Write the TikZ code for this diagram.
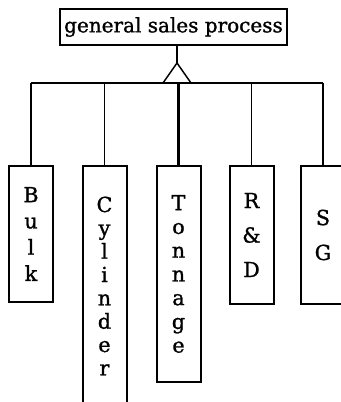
\documentclass[tikz,border=0pt]{standalone}
\usepackage{fontspec}
\setmainfont[FakeBold=1.2]{DejaVu Serif}
\begin{document}
\begin{tikzpicture}[x=0.75pt,y=-0.75pt,
  colbox/.style={draw, line width=1.5pt, anchor=north, minimum width=33pt,
    inner sep=0pt, align=center, font=\fontsize{15.5}{#1}\selectfont\addfontfeature{FakeBold=1.2}},
  link/.style={line width=1.1pt},
  thick link/.style={line width=1.8pt}]
\clip (0,0) rectangle (341,402);
\node[draw, line width=1.5pt, minimum width=170pt, minimum height=27pt, inner sep=0pt,
  font=\fontsize{15}{18}\selectfont\addfontfeature{FakeBold=1.2}] (top) at (173.5,27) {general sales process};
\coordinate (apex) at (177,63);
\coordinate (bl) at (163,83);
\coordinate (br) at (191,83);
\coordinate (barL) at (31,83);
\coordinate (barR) at (323,83);
\node[colbox=19.7pt, minimum height=102pt] (bulk) at (31,165) {B\\u\\l\\k};
\node[colbox=17.5pt, minimum height=180pt] (cyl) at (104.5,165) {C\\y\\l\\i\\n\\d\\e\\r};
\node[colbox=17.8pt, minimum height=162pt] (ton) at (178.5,165) {T\\o\\n\\n\\a\\g\\e};
\node[colbox=25.9pt, minimum height=103.5pt] (rd) at (251.5,165) {R\\\&\\D};
\node[colbox=26.2pt, minimum height=103.5pt] (sg) at (323,165) {S\\G};
\draw[link] (top.south -| apex) -- (apex);
\draw[link] (apex) -- (bl) (apex) -- (br);
\draw[link] (barL) -- (barR);
\draw[link] (barL) -- (bulk.north);
\draw[link] (cyl.north |- barL) -- (cyl.north);
\draw[thick link] (ton.north |- barL) -- (ton.north);
\draw[link] (rd.north |- barL) -- (rd.north);
\draw[link] (barR) -- (sg.north);
\end{tikzpicture}
\end{document}
